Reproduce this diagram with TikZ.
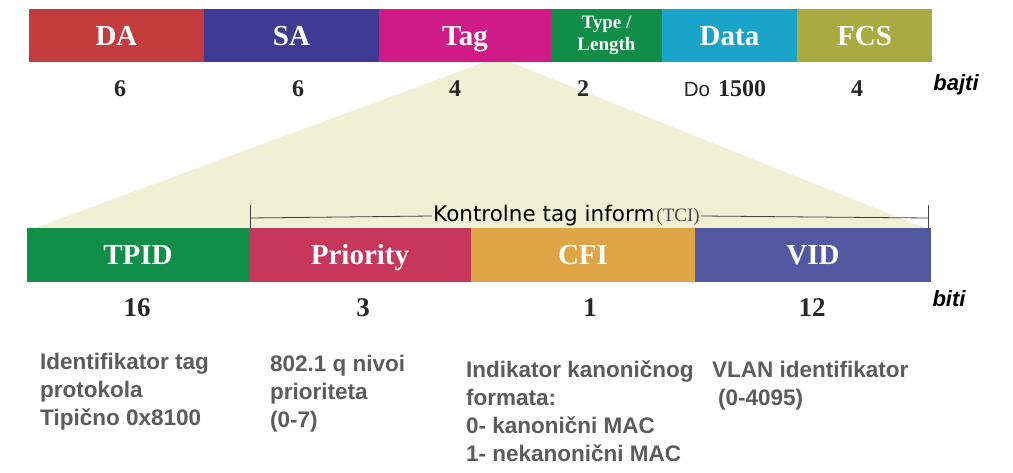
\documentclass[tikz,border=0pt]{standalone}
\usepackage{fontspec}
\setmainfont{Liberation Serif}
\setsansfont{Liberation Sans}
\newfontfamily\tcifont{DejaVu Sans}
\usetikzlibrary{positioning}
\definecolor{daRed}{HTML}{C43B3E}
\definecolor{saBlue}{HTML}{3F3A93}
\definecolor{tagMagenta}{HTML}{D01A85}
\definecolor{typeGreen}{HTML}{108E48}
\definecolor{dataCyan}{HTML}{1AA4CA}
\definecolor{fcsOlive}{HTML}{A9AA40}
\definecolor{tpidGreen}{HTML}{118E48}
\definecolor{prioRed}{HTML}{C7375C}
\definecolor{cfiOrange}{HTML}{DFA446}
\definecolor{vidBlue}{HTML}{5359A0}
\definecolor{fanYellow}{HTML}{F0F0D4}
\definecolor{noteGray}{HTML}{5C5C5C}

\begin{document}
\begin{tikzpicture}[x=1pt, y=-1pt,
    field/.style={fill=#1, text=white, inner sep=0pt, outer sep=0pt,
        text height=20pt, text depth=0pt,
        font=\rmfamily\bfseries\fontsize{29}{31}\selectfont},
    topfield/.style={field=#1, minimum height=53pt},
    lowfield/.style={field=#1, minimum height=54pt},
    bytes/.style={font=\rmfamily\bfseries\fontsize{24}{26}\selectfont, text=black!85, inner sep=0pt},
    bits/.style={font=\rmfamily\bfseries\fontsize{27}{29}\selectfont, text=black!85, inner sep=0pt},
    unit/.style={font=\sffamily\bfseries\itshape\fontsize{22}{24}\selectfont, inner sep=0pt},
    note/.style={anchor=north west, align=left, inner sep=0pt, text=noteGray,
        font=\sffamily\bfseries\fontsize{22.5}{28}\selectfont}]
    \useasboundingbox (0,0) rectangle (1013,473);
    % fan from the Tag field down to the tag fields
    \fill[fanYellow] (485,62) -- (510,62) -- (925,228) -- (35,228) -- cycle;
    % frame
    \node [topfield=daRed, minimum width=175pt, anchor=north west] (da) at (29,9) {DA};
    \node [topfield=saBlue, minimum width=175pt, right=0pt of da] (sa) {SA};
    \node [topfield=tagMagenta, minimum width=172pt, right=0pt of sa] (tag) {Tag};
    \node [topfield=typeGreen, minimum width=111pt, right=0pt of tag, align=center,
        text height=, text depth=,
        font=\rmfamily\bfseries\fontsize{19}{22}\selectfont] (type) {Type /\\Length};
    \node [topfield=dataCyan, minimum width=135pt, right=0pt of type] (data) {Data};
    \node [topfield=fcsOlive, minimum width=135pt, right=0pt of data] (fcs) {FCS};
    \node [bytes] (daN) at (120,89) {6};
    \node [bytes] (saN) at (298,89) {6};
    \node [bytes] (tagN) at (455,89) {4};
    \node [bytes] (typeN) at (583,89) {2};
    \node [bytes] (dataN) at (725,89) {{\sffamily\mdseries\fontsize{20.5}{22}\selectfont Do}\hspace{8pt}1500};
    \node [bytes] (fcsN) at (857,89) {4};
    \node [unit] (bajti) at (956,85) {bajti};
    % tag fields
    \node [lowfield=tpidGreen, minimum width=222pt, anchor=north west] (tpid) at (27,228) {TPID};
    \node [lowfield=prioRed, minimum width=222pt, right=0pt of tpid] (prio) {Priority};
    \node [lowfield=cfiOrange, minimum width=224pt, right=0pt of prio] (cfi) {CFI};
    \node [lowfield=vidBlue, minimum width=236pt, right=0pt of cfi] (vid) {VID};
    \node [bits] (tpidN) at (137,308) {16};
    \node [bits] (prioN) at (363,308) {3};
    \node [bits] (cfiN) at (590,308) {1};
    \node [bits] (vidN) at (812,308) {12};
    \node [unit] (biti) at (949,299) {biti};
    % TCI bracket
    \coordinate (tciL) at (250,218);
    \coordinate (tciR) at (928,218);
    \node [fill=fanYellow, inner xsep=1pt, inner ysep=1pt, anchor=west] (tci) at (432,216)
        {\tcifont\fontsize{21.5}{23}\selectfont Kontrolne tag inform{\rmfamily\fontsize{19}{21}\selectfont\color{black!70}\hspace{2pt}(TCI)}\hspace{9pt}};
    \draw [black!75, line width=0.8pt] (tciL) -- (tci.west);
    \draw [black!75, line width=0.8pt] (tci.east) -- (tciR);
    \draw [black!75, line width=0.8pt] (250,205) -- (250,228);
    \draw [black!75, line width=0.8pt] (928,205) -- (928,228);
    % notes
    \node [note] (tpidNote) at (40,353) {Identifikator tag\\protokola\\Tipično 0x8100};
    \node [note] (prioNote) at (270,355) {802.1 q nivoi\\prioriteta\\(0-7)};
    \node [note] (cfiNote) at (466,361) {Indikator kanoničnog\\formata:\\0- kanonični MAC\\1- nekanonični MAC};
    \node [note] (vidNote) at (712,361) {VLAN identifikator\\\hspace{6pt}(0-4095)};
\end{tikzpicture}
\end{document}
